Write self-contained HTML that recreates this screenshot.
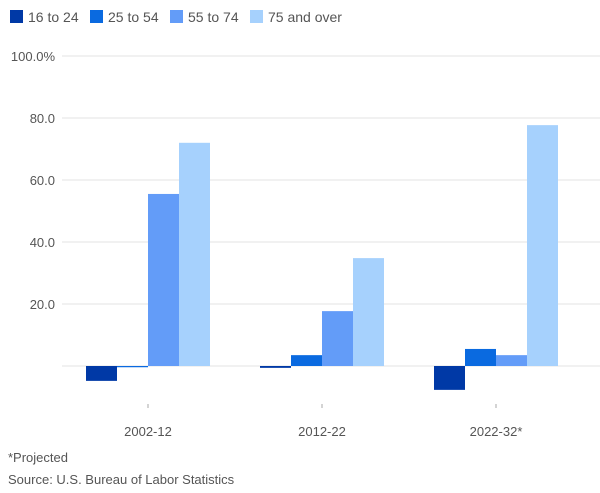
<!DOCTYPE html>
<html><head><meta charset="utf-8"><style>
body{margin:0;background:#fff;font-family:"Liberation Sans",sans-serif;}
svg{display:block}
</style></head><body>
<svg id="chart" width="600" height="493">
<g id="legend"></g>
<g id="grid"></g>
<g id="bars"></g>
<g id="xaxis"></g>
<text x="8" y="462" font-size="13" fill="#555">*Projected</text>
<text x="8" y="484" font-size="13" fill="#555">Source: U.S. Bureau of Labor Statistics</text>
</svg>
<script>
const categories = ["2002-12","2012-22","2022-32*"];
const seriesNames = ["16 to 24","25 to 54","55 to 74","75 and over"];
const s1624 = [-4.8,-0.6,-7.7];
const s2554 = [-0.4,3.5,5.5];
const s5574 = [55.5,17.7,3.5];
const s75 = [72.0,34.8,77.7];
const yTicks = [20,40,60,80,100];
const yTickLabels = ["20.0","40.0","60.0","80.0","100.0%"];
const colors = ["#0039a6","#0a6ae0","#639cf8","#a6d1fd"];
const series=[s1624,s2554,s5574,s75];
const NS="http://www.w3.org/2000/svg";
function mk(t,a,p){const e=document.createElementNS(NS,t);for(const k in a)e.setAttribute(k,a[k]);p.appendChild(e);return e;}
const y0=366, ppu=3.1;
const y=v=>y0-v*ppu;
const bandL=61, step=174, barW=31;
const xc=i=>bandL+step*i+step/2;
const grid=document.getElementById('grid');
yTicks.forEach((t,i)=>{
 const l=mk('line',{x1:62,x2:600,y1:y(t),y2:y(t),stroke:'#e3e3e3','stroke-width':1},grid);
 
 
 const tx=mk('text',{x:55,y:y(t)+5,'font-size':13,fill:'#555','text-anchor':'end'},grid);
 tx.textContent=yTickLabels[i];
 
 
});
const zl=mk('line',{x1:62,x2:600,y1:y(0),y2:y(0),stroke:'#e3e3e3','stroke-width':1},grid);


const bars=document.getElementById('bars');
categories.forEach((c,i)=>{
 series.forEach((s,j)=>{
  const v=s[i];
  const x=xc(i)-2*barW+j*barW;
  const r=mk('rect',{x:x,y:Math.min(y(v),y0),width:barW,height:Math.max(Math.abs(v*ppu),1),fill:colors[j]},bars);
  
  
 });
});
const xa=document.getElementById('xaxis');
categories.forEach((c,i)=>{
 const tk=mk('line',{x1:xc(i),x2:xc(i),y1:404,y2:408,stroke:'#aaa'},xa);
 
 
 const t=mk('text',{x:xc(i),y:436,'font-size':13,fill:'#555','text-anchor':'middle'},xa);
 t.textContent=c;
 
 
});
const lg=document.getElementById('legend');
let lx=10;
const lw=[80,80,80,100];
seriesNames.forEach((n,j)=>{
 const r=mk('rect',{x:lx,y:10,width:13,height:13,fill:colors[j]},lg);
 
 
 const t=mk('text',{x:lx+18,y:22,'font-size':14,fill:'#555'},lg);
 t.textContent=n;
 
 
 lx+=lw[j];
});
</script>
</body></html>
